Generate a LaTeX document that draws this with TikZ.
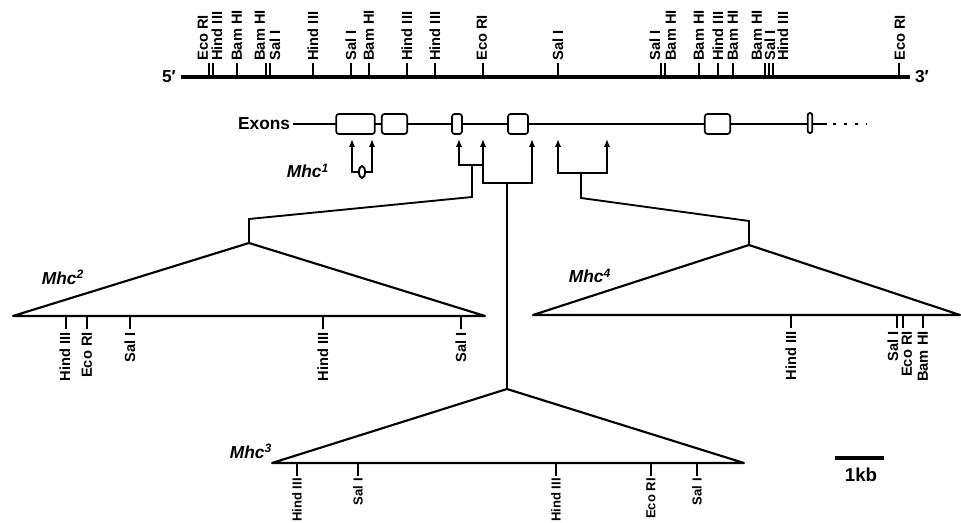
\documentclass[tikz,border=0pt]{standalone}
\usepackage{fontspec}
\setmainfont{Liberation Sans}
\usetikzlibrary{arrows.meta, positioning}

\begin{document}
\begin{tikzpicture}[x=0.75pt, y=-0.75pt,
    map/.style={line width=2.3pt},
    gene/.style={line width=1.8pt},
    tri/.style={line width=1.6pt, line join=round},
    cutmark/.style={line width=1.3pt},
    cutline/.style={line width=1.4pt},
    cut/.style={line width=1.4pt, {Latex[length=6pt,width=4.8pt]}-{Latex[length=6pt,width=4.8pt]}},
    onecut/.style={line width=1.4pt, {Latex[length=6pt,width=4.8pt]}-},
    site/.style={font=\fontsize{11}{11}\selectfont\bfseries, rotate=90, inner sep=0pt},
    lowsite/.style={site, font=\fontsize{9.8}{9.8}\selectfont\bfseries},
    exon/.style={rectangle, rounded corners=2pt, draw, fill=white, line width=1.3pt,
        minimum height=15pt, inner sep=0pt},
    mhc/.style={font=\fontsize{13}{13}\selectfont\bfseries\itshape, inner sep=0pt},
    big/.style={font=\fontsize{13}{13}\selectfont\bfseries},
]
\useasboundingbox (0,0) rectangle (961,523);

% restriction map of the whole gene
\node[big] (five) at (169,77) {5′};
\node[big] (three) at (922,77) {3′};
\draw[map] (five) -- (three);
\foreach \t/\l/\s in {209/203/Eco RI, 213/217/Hind III, 237/237/Bam HI, 266/260/Bam HI,
    270/275/Sal I, 313/313/Hind III, 351/351/Sal I, 369/369/Bam HI, 407/407/Hind III,
    435/435/Hind III, 483/482/Eco RI, 558/558/Sal I, 661/655/Sal I, 665/671/Bam HI,
    699/699/Bam HI, 718/718/Hind III, 733/733/Bam HI, 765/757/Bam HI, 769/770/Sal I,
    773/783/Hind III, 899/900/Eco RI} {
    \draw[cutmark] (\t,78) -- (\t,63);
    \node[site, anchor=west] (top\t) at (\l,61) {\s};
}

% exons
\node[big, anchor=east, inner sep=2pt] (exlbl) at (293,124) {Exons};
\coordinate (geneend) at (827,124);
\coordinate (dotsbeg) at (833,124);
\coordinate (dotsend) at (867,124);
\draw[gene] (exlbl) -- (geneend);
\draw[gene, dash pattern=on 2.5pt off 5.8pt] (dotsbeg) -- (dotsend);
\node[exon, minimum width=29pt] (ex1) at (355.5,124) {};
\node[exon, minimum width=19pt] (ex2) at (394.5,124) {};
\node[exon, minimum width=7.5pt] (ex3) at (457,124) {};
\node[exon, minimum width=15pt] (ex4) at (518,124) {};
\node[exon, minimum width=19pt] (ex5) at (717.5,124) {};
\node[exon, minimum width=3.5pt, rounded corners=1.7pt] (ex6) at (810,123) {};

% breakpoints of the mutants
\foreach \x in {352,372,459,483,532,558,607}
    \coordinate (tip\x) at (\x,139);
\coordinate (m1) at (362,172);
\coordinate (m2) at (472,165);
\coordinate (j2) at (483,165);
\coordinate (b2) at (472,197);
\coordinate (k2) at (249,219);
\coordinate (m3) at (507,183);
\coordinate (m4) at (581,173);
\coordinate (b4) at (581,198);
\coordinate (k4) at (749,221);

\draw[cut] (tip352) |- (m1) -| (tip372);
\draw[cutline, fill=white] (m1) ellipse (3 and 6);
\node[mhc] (mhc1) at (308,171) {Mhc\textsuperscript{1}};

\draw[onecut] (tip459) |- (j2);
\draw[cut] (tip483) |- (m3) -| (tip532);
\draw[cut] (tip558) |- (m4) -| (tip607);

% insertions
\coordinate (apex2) at (249,243);
\coordinate (l2) at (13,316);
\coordinate (r2) at (485,316);
\coordinate (apex3) at (507,389);
\coordinate (l3) at (272,463);
\coordinate (r3) at (744,463);
\coordinate (apex4) at (749,245);
\coordinate (l4) at (533,315);
\coordinate (r4) at (960,315);

\draw[cutline] (m2) -- (b2) -- (k2) -- (apex2);
\draw[cutline] (m3) -- (apex3);
\draw[cutline] (m4) -- (b4) -- (k4) -- (apex4);

\draw[tri] (apex2) -- (l2) -- (r2) -- cycle;
\draw[tri] (apex3) -- (l3) -- (r3) -- cycle;
\draw[tri] (apex4) -- (l4) -- (r4) -- cycle;

\node[mhc] (mhc2) at (63,277) {Mhc\textsuperscript{2}};
\node[mhc] (mhc3) at (251,451) {Mhc\textsuperscript{3}};
\node[mhc] (mhc4) at (590,276) {Mhc\textsuperscript{4}};

\foreach \t/\l/\s in {66/65/Hind III, 87/87/Eco RI, 130/130/Sal I, 323/323/Hind III, 461/461/Sal I} {
    \draw[cutmark] (\t,316) -- (\t,329);
    \node[site, anchor=east] (two\t) at (\l,332) {\s};
}
\foreach \t/\l/\s in {791/791/Hind III, 897/893/Sal I, 903/907/Eco RI, 923/923/Bam HI} {
    \draw[cutmark] (\t,315) -- (\t,328);
    \node[site, anchor=east] (four\t) at (\l,331) {\s};
}
\foreach \t/\l/\s in {297/297/Hind III, 358/358/Sal I, 556/556/Hind III, 651/651/Eco RI, 697/697/Sal I} {
    \draw[cutmark] (\t,463) -- (\t,476);
    \node[lowsite, anchor=east] (three\t) at (\l,478) {\s};
}

% scale
\coordinate (kb1) at (835,458);
\coordinate (kb2) at (884,458);
\draw[map] (kb1) -- (kb2);
\node[big, font=\fontsize{14}{14}\selectfont\bfseries] (kb) at (861,475) {1kb};
\end{tikzpicture}
\end{document}
